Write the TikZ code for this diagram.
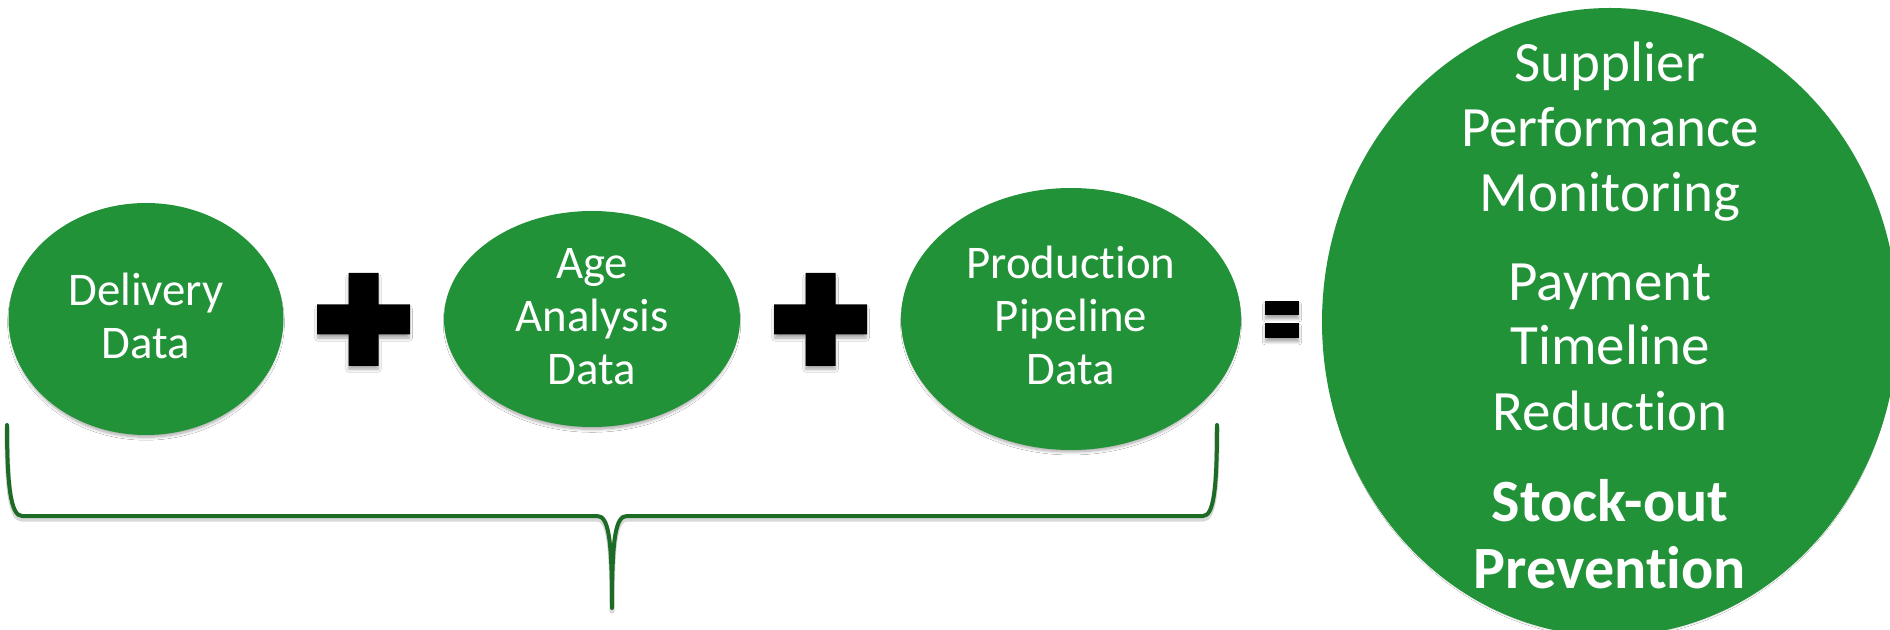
\documentclass[tikz,border=0pt]{standalone}
\usepackage{fontspec}
\setmainfont{Carlito}[Ligatures=NoCommon]
\usetikzlibrary{shapes.geometric,shadows.blur}
\definecolor{leafgreen}{RGB}{34,146,56}
\definecolor{bracegreen}{RGB}{28,108,38}
% outline of the curly brace under the three data sources
\newcommand\bracecurve{(7,425) .. controls (7,487) and (11,516) .. (22,516)
  -- (597,516) .. controls (608,516) and (612,535) .. (612,608)
  .. controls (612,535) and (616,516) .. (627,516)
  -- (1203,516) .. controls (1214,516) and (1217,487) .. (1217,425)}
\begin{document}
\begin{tikzpicture}[x=0.5pt,y=-0.5pt,
  softshadow/.style={blur shadow={shadow xshift=0pt,shadow yshift=-2pt,shadow scale=0.985,
      shadow blur radius=1.5pt,shadow blur steps=8,shadow opacity=35}},
  bubble/.style={ellipse,fill=leafgreen,draw=none,inner sep=0pt,outer sep=0pt,softshadow},
  smalltext/.style={text=white,align=center,inner sep=0pt,anchor=base,
      font=\fontsize{23.4}{26.5}\selectfont},
  bigtext/.style={text=white,align=center,inner sep=0pt,anchor=base,
      font=\fontsize{28.5}{32.5}\selectfont},
  boldtext/.style={text=white,align=center,inner sep=0pt,anchor=base,
      font=\fontsize{30}{33.5}\selectfont\bfseries},
  plussign/.pic={\fill[black,softshadow] (-15,-46.5) -- (15,-46.5) -- (15,-15)
      -- (46.5,-15) -- (46.5,15) -- (15,15) -- (15,46.5) -- (-15,46.5)
      -- (-15,15) -- (-46.5,15) -- (-46.5,-15) -- (-15,-15) -- cycle;}
]
\clip (0,0) rectangle (1890,630);
\fill[white] (0,0) rectangle (1890,630);

% data sources (text nodes are placed by the baseline of their last line)
\node[bubble,minimum width=137.5pt,minimum height=116pt] (delivery) at (146,319) {};
\node[bubble,minimum width=148pt,minimum height=108pt] (age) at (592,319) {};
\node[bubble,minimum width=170pt,minimum height=131pt] (pipeline) at (1071,319) {};
\node[smalltext] (deliverytxt) at (146,359) {Delivery\\Data};
\node[smalltext] (agetxt) at (592,385) {Age\\Analysis\\Data};
\node[smalltext] (pipelinetxt) at (1071,385) {Production\\Pipeline\\Data};

% operators
\pic at (363.5,319.5) {plussign};
\pic at (820.5,319.5) {plussign};
\fill[black,softshadow] (1265,301) rectangle (1299,315);
\fill[black,softshadow] (1265,323) rectangle (1299,338);

% outcome
\node[bubble,minimum width=288pt,minimum height=314pt] (outcome) at (1610,322) {};
\node[bigtext] (supplier) at (1610,212) {Supplier\\Performance\\Monitoring};
\node[bigtext] (payment) at (1610,430) {Payment\\Timeline\\Reduction};
\node[boldtext] (stockout) at (1610,588) {Stock-out\\Prevention};

% brace grouping the sources
\draw[black!30,opacity=0.5,line width=2.6pt,line join=round,line cap=round,yshift=-1.5pt] \bracecurve;
\draw[bracegreen,line width=2pt,line join=round,line cap=round] \bracecurve;
\end{tikzpicture}
\end{document}
